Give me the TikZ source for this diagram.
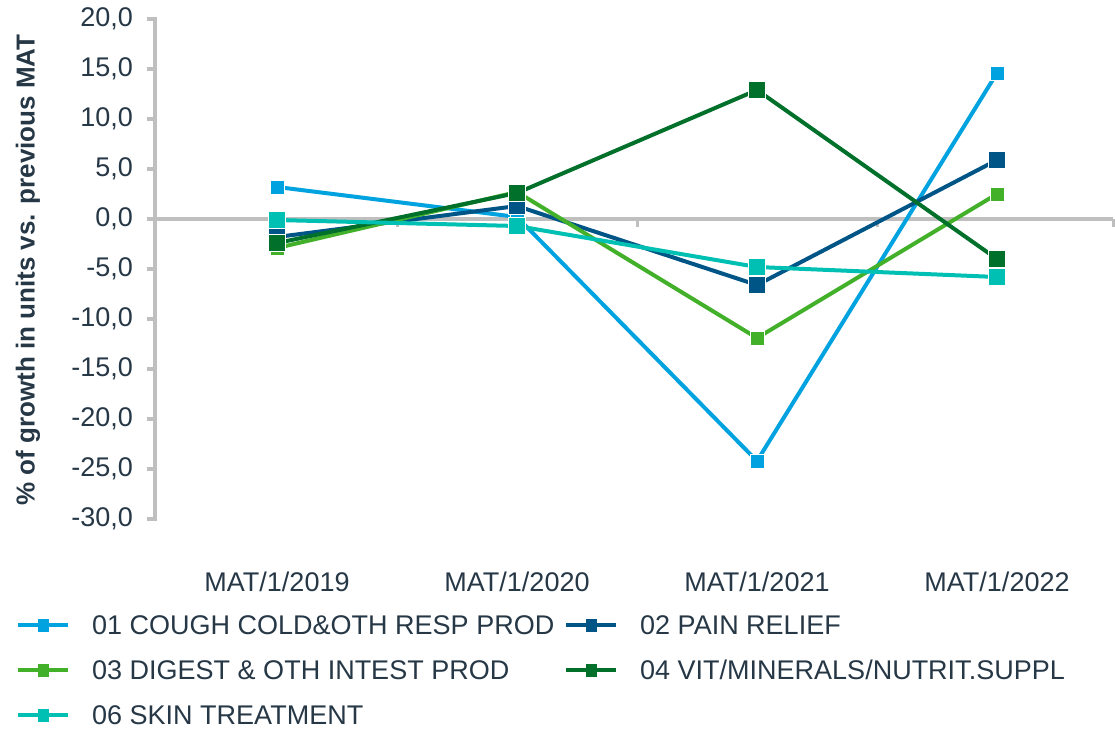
\documentclass[tikz,border=0pt]{standalone}
\usepackage{fontspec}
\setmainfont{Liberation Sans}
\usetikzlibrary{positioning}

\definecolor{axisgray}{HTML}{BFBFBF}
\definecolor{txtdark}{HTML}{263746}
\definecolor{cough}{HTML}{00A3E0}
\definecolor{pain}{HTML}{005587}
\definecolor{digest}{HTML}{43B02A}
\definecolor{vit}{HTML}{00702B}
\definecolor{skin}{HTML}{00BFB3}

\begin{document}
\begin{tikzpicture}[x=1pt, y=-1pt,
    axisline/.style={draw=axisgray, line width=4pt},
    tickline/.style={draw=axisgray, line width=3pt},
    lbl/.style={text=txtdark, font=\fontsize{27}{32}\selectfont, inner sep=0pt},
    series/.style={line width=4pt, line join=round},
    sq/.style={rectangle, fill=#1, draw=white, line width=0.6pt, inner sep=0pt}]

    \useasboundingbox (0,0) rectangle (1115,729);

    % axes
    \coordinate (ytop) at (155,17);
    \coordinate (ybot) at (155,521);
    \coordinate (xleft) at (155,219);
    \coordinate (xright) at (1113,219);
    \draw [axisline] (ytop) -- (ybot);
    \foreach \v/\t [count=\k] in {20/{20,0},15/{15,0},10/{10,0},5/{5,0},0/{0,0},-5/{-5,0},-10/{-10,0},-15/{-15,0},-20/{-20,0},-25/{-25,0},-30/{-30,0}} {
        \coordinate (yt\k) at (155,219-10*\v);
        \draw [tickline, line width=4pt] (yt\k) -- ++(-8,0);
        \node [lbl, anchor=east] (ylab\k) at (133,219-10*\v) {\t};
    }
    \draw [axisline] (xleft) -- (xright);
    \foreach \x [count=\k] in {397,637,877,1113} {
        \coordinate (xt\k) at (\x,219);
        \draw [tickline] (xt\k) -- ++(0,8);
    }

    \node [lbl, font=\fontsize{26}{30}\bfseries, rotate=90] (ytitle) at (28,270) {\% of growth in units vs. previous MAT};

    % categories
    \foreach \yr [count=\k] in {2019,2020,2021,2022}
        \node [lbl] (cat\k) at (37+240*\k,582) {MAT/1/\yr};

    % series
    \begin{scope}[yshift=-219pt, y=10pt]
    \foreach \name/\sz/\a/\b/\c/\d in {
        cough/14/3.2/0.2/-24.2/14.6,
        pain/17/-1.8/1.3/-6.6/5.9,
        digest/14/-2.9/2.7/-11.9/2.5,
        vit/17/-2.4/2.6/12.9/-4.0,
        skin/17/-0.1/-0.7/-4.8/-5.8} {
        \coordinate (\name1) at (277,\a);
        \coordinate (\name2) at (517,\b);
        \coordinate (\name3) at (757,\c);
        \coordinate (\name4) at (997,\d);
        \draw [series, \name] (\name1) -- (\name2) -- (\name3) -- (\name4);
        \foreach \i in {1,...,4}
            \node [sq=\name, minimum size=\sz pt] (\name-m\i) at (\name\i) {};
    }
    \end{scope}

    % legend
    \foreach \name/\x/\y/\txt in {
        cough/43/625/{01 COUGH COLD\&OTH RESP PROD},
        pain/591/625/{02 PAIN RELIEF},
        digest/43/670/{03 DIGEST \& OTH INTEST PROD},
        vit/591/670/{04 VIT/MINERALS/NUTRIT.SUPPL},
        skin/43/715/{06 SKIN TREATMENT}} {
        \coordinate (\name-kl) at (\x-25,\y);
        \coordinate (\name-kr) at (\x+25,\y);
        \draw [series, \name] (\name-kl) -- (\name-kr);
        \node [sq=\name, draw=none, minimum width=11pt, minimum height=13pt] (\name-key) at (\x,\y) {};
        \node [lbl, anchor=west] (\name-txt) at (\x+49,\y) {\txt};
    }
\end{tikzpicture}
\end{document}
